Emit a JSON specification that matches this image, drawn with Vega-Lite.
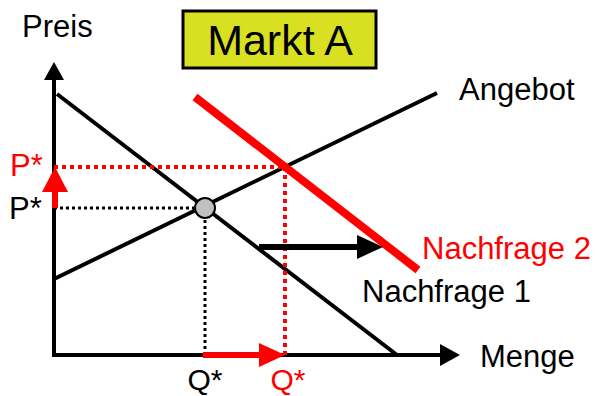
{
  "$schema": "https://vega.github.io/schema/vega-lite/v6.json",
  "width": 598,
  "height": 396,
  "autosize": {"type": "none"},
  "padding": 0,
  "background": "white",
  "config": {"view": {"stroke": null}, "text": {"font": "Liberation Sans"}},
  "datasets": {
    "achsen": [
      {"teil": "Preisachse", "q": 0, "p": 0, "q2": 0, "p2": 27.6},
      {"teil": "Mengenachse", "q": 0, "p": 0, "q2": 38.8, "p2": 0}
    ],
    "achsenspitzeY": [{"teil": "Preis", "q": 0, "p": 28.4}],
    "achsenspitzeX": [{"teil": "Menge", "q": 39.6, "p": 0}],
    "kurven": [
      {"kurve": "Nachfrage 1", "q": 0.3, "p": 26.1, "q2": 34.3, "p2": 0},
      {"kurve": "Angebot", "q": 0, "p": 7.6, "q2": 38.3, "p2": 26.2}
    ],
    "nachfrage2": [{"kurve": "Nachfrage 2", "q": 14.1, "p": 25.8, "q2": 36.4, "p2": 8.5}],
    "hilfslinien1": [
      {"teil": "P*", "q": 0, "p": 14.7, "q2": 15.1, "p2": 14.7},
      {"teil": "Q*", "q": 15.1, "p": 0, "q2": 15.1, "p2": 14.7}
    ],
    "hilfslinien2": [
      {"teil": "P*", "q": 0, "p": 18.8, "q2": 23.1, "p2": 18.8},
      {"teil": "Q*", "q": 23.1, "p": 0, "q2": 23.1, "p2": 18.8}
    ],
    "pfeilschaftRot": [
      {"teil": "Preisanstieg", "q": 0.1, "p": 14.7, "q2": 0.1, "p2": 16.5},
      {"teil": "Mengenanstieg", "q": 14.9, "p": 0, "q2": 20.7, "p2": 0}
    ],
    "pfeilspitzeRotY": [{"teil": "Preisanstieg", "q": 0.1, "p": 17.55}],
    "pfeilspitzeRotX": [{"teil": "Mengenanstieg", "q": 21.8, "p": 0}],
    "verschiebung": [{"teil": "Verschiebung", "q": 20.5, "p": 10.8, "q2": 30.5, "p2": 10.8}],
    "verschiebungSpitze": [{"teil": "Verschiebung", "q": 31.6, "p": 10.8}],
    "gleichgewicht": [{"punkt": "GG1", "q": 15.1, "p": 14.7}],
    "titelbox": [{"titel": "Markt A", "q": 12.9, "p": 34.4, "q2": 32.2, "p2": 28.7, "qm": 22.6, "pm": 30.0}],
    "beschriftungSchwarz": [
      {"text": "Preis", "q": -3.2, "p": 31.8},
      {"text": "Angebot", "q": 40.5, "p": 25.5},
      {"text": "Nachfrage 1", "q": 30.8, "p": 5.3},
      {"text": "Menge", "q": 42.6, "p": -1.2},
      {"text": "P*", "q": -4.5, "p": 13.6}
    ],
    "beschriftungRot": [
      {"text": "Nachfrage 2", "q": 36.8, "p": 9.6},
      {"text": "P*", "q": -4.4, "p": 17.9}
    ],
    "mengenLabels": [
      {"text": "Q*", "farbe": "schwarz", "q": 15.1, "p": -3.5},
      {"text": "Q*", "farbe": "rot", "q": 23.4, "p": -3.5}
    ]
  },
  "layer": [
    {
      "data": {"name": "titelbox"},
      "mark": {"type": "rect", "fill": "#d9e021", "stroke": "black", "strokeWidth": 3},
      "encoding": {
        "x": {"field": "q", "type": "quantitative", "scale": {"domain": [-5.4, 54.4], "nice": false, "zero": false}, "axis": null},
        "x2": {"field": "q2"},
        "y": {"field": "p", "type": "quantitative", "scale": {"domain": [-4.1, 35.5], "nice": false, "zero": false}, "axis": null},
        "y2": {"field": "p2"}
      }
    },
    {
      "data": {"name": "titelbox"},
      "mark": {"type": "text", "fontSize": 43, "align": "center", "baseline": "alphabetic", "color": "black"},
      "encoding": {
        "x": {"field": "qm", "type": "quantitative", "axis": null},
        "y": {"field": "pm", "type": "quantitative", "axis": null},
        "text": {"field": "titel"}
      }
    },
    {
      "data": {"name": "hilfslinien1"},
      "mark": {"type": "rule", "color": "black", "strokeWidth": 3, "strokeDash": [3, 3]},
      "encoding": {
        "x": {"field": "q", "type": "quantitative", "axis": null},
        "x2": {"field": "q2"},
        "y": {"field": "p", "type": "quantitative", "axis": null},
        "y2": {"field": "p2"}
      }
    },
    {
      "data": {"name": "achsen"},
      "mark": {"type": "rule", "color": "black", "strokeWidth": 4, "strokeCap": "square"},
      "encoding": {
        "x": {"field": "q", "type": "quantitative", "axis": null},
        "x2": {"field": "q2"},
        "y": {"field": "p", "type": "quantitative", "axis": null},
        "y2": {"field": "p2"}
      }
    },
    {
      "data": {"name": "achsenspitzeY"},
      "mark": {"type": "point", "shape": "M0,-0.9L-1,0.9L1,0.9Z", "filled": true, "color": "black", "opacity": 1, "size": 400},
      "encoding": {
        "x": {"field": "q", "type": "quantitative", "axis": null},
        "y": {"field": "p", "type": "quantitative", "axis": null}
      }
    },
    {
      "data": {"name": "achsenspitzeX"},
      "mark": {"type": "point", "shape": "M0.91,0L-0.91,-1L-0.91,1Z", "filled": true, "color": "black", "opacity": 1, "size": 484},
      "encoding": {
        "x": {"field": "q", "type": "quantitative", "axis": null},
        "y": {"field": "p", "type": "quantitative", "axis": null}
      }
    },
    {
      "data": {"name": "kurven"},
      "mark": {"type": "rule", "color": "black", "strokeWidth": 4},
      "encoding": {
        "x": {"field": "q", "type": "quantitative", "axis": null},
        "x2": {"field": "q2"},
        "y": {"field": "p", "type": "quantitative", "axis": null},
        "y2": {"field": "p2"}
      }
    },
    {
      "data": {"name": "hilfslinien2"},
      "mark": {"type": "rule", "color": "#ff0000", "strokeWidth": 4, "strokeDash": [4, 4]},
      "encoding": {
        "x": {"field": "q", "type": "quantitative", "axis": null},
        "x2": {"field": "q2"},
        "y": {"field": "p", "type": "quantitative", "axis": null},
        "y2": {"field": "p2"}
      }
    },
    {
      "data": {"name": "nachfrage2"},
      "mark": {"type": "rule", "color": "#ff0000", "strokeWidth": 8},
      "encoding": {
        "x": {"field": "q", "type": "quantitative", "axis": null},
        "x2": {"field": "q2"},
        "y": {"field": "p", "type": "quantitative", "axis": null},
        "y2": {"field": "p2"}
      }
    },
    {
      "data": {"name": "pfeilschaftRot"},
      "mark": {"type": "rule", "color": "#ff0000", "strokeWidth": 6},
      "encoding": {
        "x": {"field": "q", "type": "quantitative", "axis": null},
        "x2": {"field": "q2"},
        "y": {"field": "p", "type": "quantitative", "axis": null},
        "y2": {"field": "p2"}
      }
    },
    {
      "data": {"name": "pfeilspitzeRotY"},
      "mark": {"type": "point", "shape": "M0,-0.96L-1,0.96L1,0.96Z", "filled": true, "color": "#ff0000", "opacity": 1, "size": 676},
      "encoding": {
        "x": {"field": "q", "type": "quantitative", "axis": null},
        "y": {"field": "p", "type": "quantitative", "axis": null}
      }
    },
    {
      "data": {"name": "pfeilspitzeRotX"},
      "mark": {"type": "point", "shape": "M1,0L-1,-0.92L-1,0.92Z", "filled": true, "color": "#ff0000", "opacity": 1, "size": 676},
      "encoding": {
        "x": {"field": "q", "type": "quantitative", "axis": null},
        "y": {"field": "p", "type": "quantitative", "axis": null}
      }
    },
    {
      "data": {"name": "verschiebung"},
      "mark": {"type": "rule", "color": "black", "strokeWidth": 6},
      "encoding": {
        "x": {"field": "q", "type": "quantitative", "axis": null},
        "x2": {"field": "q2"},
        "y": {"field": "p", "type": "quantitative", "axis": null},
        "y2": {"field": "p2"}
      }
    },
    {
      "data": {"name": "verschiebungSpitze"},
      "mark": {"type": "point", "shape": "M1,0L-1,-0.92L-1,0.92Z", "filled": true, "color": "black", "opacity": 1, "size": 676},
      "encoding": {
        "x": {"field": "q", "type": "quantitative", "axis": null},
        "y": {"field": "p", "type": "quantitative", "axis": null}
      }
    },
    {
      "data": {"name": "gleichgewicht"},
      "mark": {"type": "point", "shape": "circle", "filled": true, "fill": "#c0c0c0", "stroke": "black", "strokeWidth": 2, "opacity": 1, "size": 400},
      "encoding": {
        "x": {"field": "q", "type": "quantitative", "axis": null},
        "y": {"field": "p", "type": "quantitative", "axis": null}
      }
    },
    {
      "data": {"name": "beschriftungSchwarz"},
      "mark": {"type": "text", "fontSize": 31, "align": "left", "baseline": "alphabetic", "color": "black"},
      "encoding": {
        "x": {"field": "q", "type": "quantitative", "axis": null},
        "y": {"field": "p", "type": "quantitative", "axis": null},
        "text": {"field": "text"}
      }
    },
    {
      "data": {"name": "beschriftungRot"},
      "mark": {"type": "text", "fontSize": 31, "align": "left", "baseline": "alphabetic", "color": "#ff0000"},
      "encoding": {
        "x": {"field": "q", "type": "quantitative", "axis": null},
        "y": {"field": "p", "type": "quantitative", "axis": null},
        "text": {"field": "text"}
      }
    },
    {
      "data": {"name": "mengenLabels"},
      "mark": {"type": "text", "fontSize": 30, "align": "center", "baseline": "alphabetic"},
      "encoding": {
        "x": {"field": "q", "type": "quantitative", "axis": null},
        "y": {"field": "p", "type": "quantitative", "axis": null},
        "text": {"field": "text"},
        "color": {"field": "farbe", "type": "nominal", "scale": {"domain": ["schwarz", "rot"], "range": ["black", "#ff0000"]}, "legend": null}
      }
    }
  ]
}
